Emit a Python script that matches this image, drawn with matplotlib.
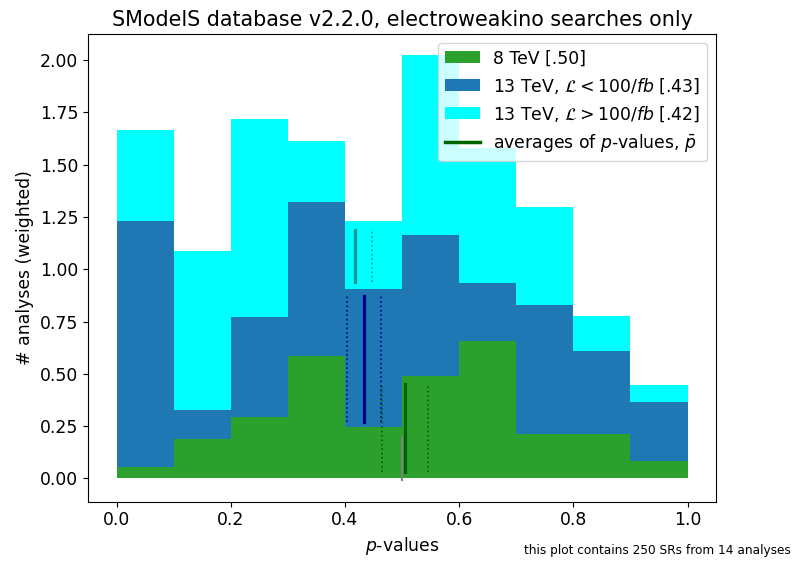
import numpy as np
import matplotlib.pyplot as plt

plt.rcParams["font.size"] = 12.4
plt.rcParams["axes.titlesize"] = 14.9

# histogram of p-values, 10 bins, stacked by dataset type
edges = np.linspace(0.0, 1.0, 11)
h8 = [0.052, 0.186, 0.295, 0.586, 0.248, 0.490, 0.657, 0.214, 0.214, 0.081]
h13lo = [1.177, 0.143, 0.476, 0.738, 0.657, 0.672, 0.276, 0.615, 0.396, 0.286]
h13hi = [0.438, 0.757, 0.948, 0.290, 0.328, 0.862, 0.648, 0.471, 0.166, 0.081]

labels = ["8 TeV [.50]",
          r"13 TeV, $\mathcal{L}<100/fb$ [.43]",
          r"13 TeV, $\mathcal{L}>100/fb$ [.42]"]
colors = ["tab:green", "tab:blue", "cyan"]

# averages of p-values with their errors, and the y-span of each marker
pmeans = [0.505, 0.434, 0.417]
perrs = [0.040, 0.030, 0.030]
yspans = [(0.03, 0.45), (0.27, 0.87), (0.94, 1.19)]
mcolors = ["darkgreen", "darkblue", "#009a9a"]

fig = plt.figure(figsize=(7.93, 5.65), dpi=100)
ax = fig.add_axes([0.111, 0.112, 0.792, 0.828])

left = edges[:-1]
width = np.diff(edges)
bottom = np.zeros(len(left))
handles = []
for h, c, l in zip([h8, h13lo, h13hi], colors, labels):
    b = ax.bar(left, h, width=width, bottom=bottom, align="edge", color=c,
               label=l, linewidth=0)
    handles.append(b)
    bottom = bottom + np.array(h)

for m, e, (y0, y1), c in zip(pmeans, perrs, yspans, mcolors):
    ax.plot([m, m], [y0, y1], color=c, lw=2.3)
    ax.plot([m - e, m - e], [y0, y1], color=c, lw=1.2, ls=":")
    ax.plot([m + e, m + e], [y0, y1], color=c, lw=1.2, ls=":")
ax.plot([0.5, 0.5], [-0.01, 0.2], color="gray", lw=1.5)
avg, = ax.plot([], [], color="darkgreen", lw=2.5,
               label=r"averages of $p$-values, $\bar{p}$")
handles.append(avg)

ax.set_xlim(-0.05, 1.05)
ax.set_xlabel("$p$-values")
ax.set_ylabel("# analyses (weighted)")
ax.set_title("SModelS database v2.2.0, electroweakino searches only")
ax.legend(handles=handles, loc="upper right")
fig.text(0.997, 0.014, "this plot contains 250 SRs from 14 analyses",
         ha="right", va="bottom", fontsize=8.7)

fig.savefig("out.png")
